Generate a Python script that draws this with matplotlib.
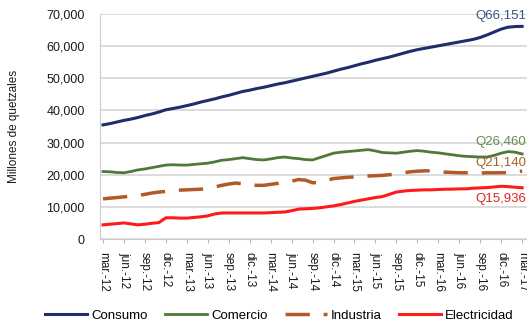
import matplotlib
matplotlib.use("Agg")
import matplotlib.pyplot as plt
import numpy as np

plt.rcParams['font.family'] = ['Liberation Sans', 'DejaVu Sans']

# monthly data, mar-12 .. mar-17, ticks every quarter
meses = ['mar.', 'jun.', 'sep.', 'dic.']
tick_labels = []
for k in range(21):
    tick_labels.append(f'{meses[k % 4]}-{12 + k // 4}')

consumo = [35500, 35900, 36400, 36900, 37300, 37800, 38400, 38900, 39500, 40200,
           40600, 41000, 41500, 42000, 42600, 43100, 43600, 44200, 44700, 45300,
           45900, 46300, 46800, 47200, 47700, 48200, 48600, 49100, 49600, 50100,
           50600, 51100, 51600, 52200, 52800, 53300, 53900, 54500, 55000, 55600,
           56100, 56600, 57200, 57800, 58400, 58900, 59300, 59700, 60100, 60500,
           60900, 61300, 61700, 62100, 62700, 63500, 64400, 65300, 65900, 66100,
           66151]
comercio = [21000, 20900, 20700, 20600, 21000, 21500, 21800, 22200, 22600, 23000,
            23100, 23000, 23000, 23200, 23400, 23600, 24000, 24500, 24700, 25000,
            25300, 25000, 24700, 24600, 24900, 25300, 25500, 25200, 25000, 24700,
            24600, 25300, 26000, 26700, 27000, 27200, 27400, 27600, 27800, 27400,
            26900, 26800, 26700, 27000, 27300, 27500, 27300, 27000, 26800, 26500,
            26200, 25900, 25700, 25600, 25500, 25500, 26000, 26700, 27200, 27000,
            26460]
industria = [12500, 12700, 12900, 13100, 13300, 13500, 13900, 14300, 14600, 14800,
             15000, 15200, 15300, 15400, 15500, 15700, 16200, 16700, 17100, 17400,
             17200, 16900, 16700, 16700, 17000, 17300, 17600, 18000, 18500, 18300,
             17500, 17600, 18200, 18800, 19000, 19200, 19300, 19500, 19600, 19700,
             19800, 20000, 20300, 20600, 20900, 21100, 21200, 21200, 21000, 20800,
             20700, 20600, 20600, 20500, 20500, 20600, 20600, 20600, 20700, 20900,
             21140]
electricidad = [4400, 4600, 4800, 5000, 4700, 4400, 4600, 4900, 5100, 6600,
                6600, 6500, 6500, 6700, 6900, 7200, 7800, 8100, 8100, 8100,
                8100, 8100, 8100, 8100, 8200, 8300, 8400, 8800, 9300, 9400,
                9500, 9700, 10000, 10300, 10700, 11200, 11700, 12100, 12500, 12900,
                13200, 13900, 14600, 14900, 15100, 15200, 15300, 15300, 15400, 15500,
                15500, 15600, 15600, 15800, 15900, 16000, 16200, 16400, 16300, 16100,
                15936]

c_cons = '#1f2d6b'
c_com = '#4e7a38'
c_ind = '#b05a28'
c_ele = '#ff1a1a'
txt = '#1a1a1a'

x = np.arange(len(consumo))

fig = plt.figure(figsize=(5.27, 3.24), dpi=100, facecolor='white')
ax = fig.add_axes([100 / 527, 85 / 324, 427 / 527, 225 / 324])

ax.plot(x, consumo, color=c_cons, lw=2.2, label='Consumo')
ax.plot(x, comercio, color=c_com, lw=2, label='Comercio')
ax.plot(x, industria, color=c_ind, lw=2.5, dashes=(7, 4), label='Industria')
ax.plot(x, electricidad, color=c_ele, lw=2.2, label='Electricidad')

ax.set_xlim(-0.43, 60.7)
ax.set_ylim(0, 70000)
ax.set_yticks(np.arange(0, 70001, 10000))
ax.set_yticklabels([f'{v:,}' for v in range(0, 70001, 10000)])
ax.set_xticks(np.arange(0, 61, 3))
ax.set_xticklabels(tick_labels, rotation=-90, va='top', ha='center')
ax.tick_params(axis='y', length=0, pad=11, labelsize=9, labelcolor=txt)
ax.tick_params(axis='x', length=3, color='#bbbbbb', pad=6, labelsize=8.5, labelcolor=txt)

ax.grid(axis='y', color='#d9d9d9', lw=1.3)
ax.set_axisbelow(True)
for s in ['top', 'right']:
    ax.spines[s].set_visible(False)
ax.spines['left'].set_color('#cccccc')
ax.spines['bottom'].set_color('#cccccc')

ax.set_ylabel('Millones de quetzales', fontsize=8.5, color=txt)
ax.yaxis.set_label_coords(-80 / 427, 0.5)

# end labels
ax.text(60.6, consumo[-1] + 1500, f'Q{consumo[-1]:,}', color='#3c5580', fontsize=9.5, ha='right', va='bottom')
ax.text(60.6, comercio[-1] + 1800, f'Q{comercio[-1]:,}', color='#6b8a4e', fontsize=9.5, ha='right', va='bottom')
ax.text(60.6, industria[-1] + 500, f'Q{industria[-1]:,}', color='#a3612f', fontsize=9.5, ha='right', va='bottom')
ax.text(60.6, electricidad[-1] - 1500, f'Q{electricidad[-1]:,}', color='#e02424', fontsize=9.5, ha='right', va='top')

fig.legend(loc='center', bbox_to_anchor=(0.53, 0.025), ncol=4, frameon=False,
           fontsize=9.5, handlelength=3.2, columnspacing=1.3, handletextpad=0.3)

fig.savefig('out.png', dpi=100)
